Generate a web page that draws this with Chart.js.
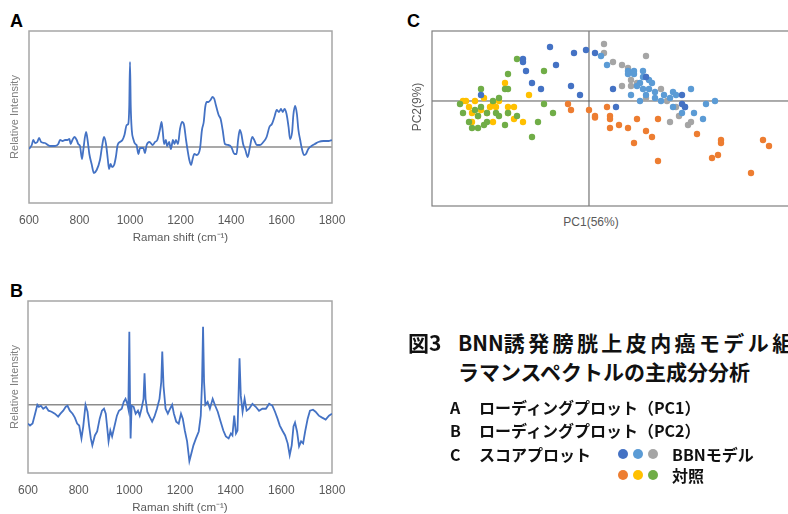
<!DOCTYPE html>
<html lang="ja">
<head>
<meta charset="utf-8">
<script src="https://cdn.jsdelivr.net/npm/chart.js@4.4.1/dist/chart.umd.min.js"></script>
<style>
html, body { margin: 0; padding: 0; background: #fff; }
body { width: 788px; height: 514px; overflow: hidden; position: relative; }
canvas { position: absolute; }
.panel { position: absolute; font-family: "Liberation Sans", Arial, sans-serif; font-weight: bold; font-size: 18px; line-height: 1; color: #000; }
.axis { position: absolute; font-family: "Liberation Sans", Arial, sans-serif; font-size: 12px; line-height: 1; color: #595959; white-space: nowrap; }
.cap { position: absolute; font-family: "Noto Sans CJK JP", sans-serif; line-height: 1; color: #111; white-space: nowrap; }
.t1 { font-size: 21px; font-weight: 700; }
.t2 { font-size: 16px; font-weight: 700; }
.dot { position: absolute; width: 10px; height: 10px; border-radius: 50%; }
</style>
</head>
<body>

<div class="panel" style="left:10px;top:12px;">A</div>
<div class="panel" style="left:10px;top:282px;">B</div>
<div class="panel" style="left:407px;top:12px;">C</div>

<canvas id="chartA" width="345" height="230" style="left:0;top:20px;width:345px;height:230px;"></canvas>
<canvas id="chartB" width="345" height="230" style="left:0;top:290px;width:345px;height:230px;"></canvas>
<canvas id="chartC" width="420" height="215" style="left:400px;top:0;width:420px;height:215px;"></canvas>

<div class="axis" id="pc1Label" style="left:591px;top:216px;transform:translateX(-50%);">PC1(56%)</div>
<div class="axis" id="pc2Label" style="left:417px;top:107px;transform:translate(-50%,-50%) rotate(-90deg);">PC2(9%)</div>

<div class="cap t1" style="left:408px;top:332px;">図3</div>
<div class="cap t1" style="left:458px;top:332px;letter-spacing:3.4px;"><span style="letter-spacing:0;">BNN</span>誘発膀胱上皮内癌モデル組織の</div>
<div class="cap t1" style="left:458px;top:361px;">ラマンスペクトルの主成分分析</div>

<div class="cap t2" style="left:450px;top:399px;">A</div>
<div class="cap t2" style="left:479px;top:399px;">ローディングプロット（PC1）</div>
<div class="cap t2" style="left:450px;top:422px;">B</div>
<div class="cap t2" style="left:479px;top:422px;">ローディングプロット（PC2）</div>
<div class="cap t2" style="left:450px;top:446px;">C</div>
<div class="cap t2" style="left:479px;top:446px;">スコアプロット</div>
<div id="legendRow1"></div>
<div id="legendRow2"></div>
<div class="cap t2" style="left:672px;top:446px;">BBNモデル</div>
<div class="cap t2" style="left:672px;top:467px;">対照</div>

<script>
// ============================================================
// DATA
// ============================================================
const ramanTicks = [600, 800, 1000, 1200, 1400, 1600, 1800];

// A: loading plot PC1
const shiftA = [
    600, 611, 617, 624, 633, 640, 648, 663, 683, 703,
    716, 723, 733, 743, 752, 760, 765, 772, 780, 789,
    795, 802, 810, 815, 826, 832, 839, 848, 857, 868,
    881, 889, 897, 905, 912, 917, 923, 929, 937, 944,
    951, 960, 970, 978, 987, 993, 997, 1000, 1003, 1007,
    1013, 1021, 1026, 1033, 1040, 1053, 1059, 1066, 1077, 1090,
    1099, 1108, 1119, 1125, 1130, 1135, 1142, 1147, 1155, 1162,
    1170, 1176, 1182, 1190, 1198, 1206, 1214, 1222, 1228, 1235,
    1242, 1248, 1255, 1264, 1277, 1285, 1292, 1298, 1304, 1311,
    1319, 1327, 1334, 1340, 1351, 1359, 1367, 1376, 1389, 1401,
    1414, 1422, 1428, 1435, 1441, 1448, 1457, 1466, 1475, 1484,
    1492, 1502, 1515, 1528, 1541, 1552, 1562, 1572, 1581, 1590,
    1598, 1605, 1612, 1620, 1628, 1634, 1642, 1647, 1654, 1661,
    1667, 1674, 1681, 1689, 1697, 1706, 1719, 1732, 1746, 1766,
    1786, 1800
];
const intensityA = [
    -2, 2, 7, 4, 5, 9, 5, 4, 1, 1,
    3, 7, 6, 7, 7, 8, 3, 7, 10, 7,
    3, 1, -12, -3, 15, 7, -7, -17, -26, -23,
    -13, 0, 10, 3, -12, -22, -17, -20, -18, -10,
    2, 5, 7, 12, 22, 23, 40, 85, 40, 17,
    8, 3, 2, -7, -1, -1, -6, 2, 5, 2,
    5, 7, 18, 25, 15, 3, 7, 1, 5, -2,
    7, 3, 7, 3, 18, 25, 22, 7, -3, -13,
    -18, -12, -7, -8, -2, 17, 25, 40, 45, 45,
    47, 50, 48, 42, 32, 28, 17, 3, 2, 0,
    -7, -7, 7, 17, 13, 3, -3, -10, 0, 10,
    7, 2, 2, 5, 10, 20, 23, 30, 37, 35,
    38, 35, 38, 33, 20, 8, 15, 32, 41, 33,
    17, 7, -2, -8, -7, -2, 1, 3, 5, 6,
    6, 7
];

// B: loading plot PC2
const shiftB = [
    600, 608, 618, 628, 637, 643, 651, 660, 671, 681,
    693, 706, 719, 728, 739, 749, 756, 765, 776, 785,
    794, 802, 811, 818, 827, 835, 841, 848, 854, 864,
    873, 883, 892, 900, 907, 913, 918, 925, 932, 942,
    951, 959, 970, 978, 985, 992, 996, 1000, 1003, 1005,
    1009, 1017, 1025, 1034, 1041, 1048, 1056, 1060, 1064, 1071,
    1080, 1090, 1099, 1109, 1119, 1126, 1130, 1135, 1143, 1152,
    1161, 1169, 1176, 1185, 1195, 1204, 1211, 1219, 1228, 1237,
    1245, 1253, 1263, 1274, 1282, 1287, 1291, 1295, 1300, 1309,
    1318, 1329, 1339, 1349, 1359, 1371, 1381, 1392, 1401, 1407,
    1414, 1421, 1427, 1431, 1435, 1440, 1447, 1455, 1463, 1473,
    1486, 1499, 1512, 1525, 1539, 1552, 1565, 1575, 1585, 1594,
    1604, 1615, 1625, 1633, 1641, 1648, 1654, 1662, 1670, 1678,
    1686, 1694, 1704, 1713, 1725, 1735, 1748, 1761, 1775, 1788,
    1800
];
const intensityB = [
    -19, -21, -19, -9, 0, -2, -1, -4, -2, -6,
    -7, -9, -12, -9, -6, -2, -1, -6, -9, -13,
    -19, -21, -34, -22, 0, -7, -21, -34, -41, -31,
    -27, -14, -6, -4, -9, -24, -37, -26, -32, -21,
    -11, -6, -4, 3, 6, 1, -4, 74, -1, -34,
    -1, -2, -9, -6, -11, -4, 6, 32, 6, -7,
    -12, -17, -12, -4, 6, 23, 54, 19, -4, -9,
    -4, 0, -9, -17, -19, -9, -14, -26, -37, -57,
    -49, -41, -34, -27, -11, 23, 79, 23, 0, 3,
    -4, 6, -1, -7, -16, -26, -32, -34, -29, -31,
    -11, -29, -26, 9, 47, 9, -7, 6, -6, -4,
    1, -2, -6, -4, -4, 1, -1, -7, -14, -21,
    -26, -31, -39, -51, -41, -22, -18, -27, -42, -37,
    -39, -27, -14, -6, -5, -7, -11, -13, -15, -11,
    -9
];

// C: score plot, [PC1, PC2]
const bbnDark = [
    [-13, 18], [-5, 16], [-1, 17], [2, 16], [-11, 12], [-22, 14], [-22, 13], [-21, 10],
    [-19, 6], [-16, 4], [-6, 5], [-3, 2], [-36, 2], [8, 4], [9, -2], [31, 2], [32, -2],
    [31, -1], [19, 8]
];
const bbnLight = [
    [4, 15], [6, 12], [13, 10], [15, 10], [18, 10], [13, 9], [18, 8], [20, 7], [21, 6],
    [17, 6], [16, 5], [18, 4], [20, 4], [22, 3], [19, 2], [14, 2], [17, 0], [24, 0],
    [22, 1], [25, 2], [27, 1], [28, 3], [34, 4], [29, 2], [39, -1], [42, 0], [35, -4],
    [38, -6], [31, -4], [32, -2], [28, -2], [15, 9]
];
const bbnGray = [
    [5, 19], [5, 16], [8, 13], [11, 12], [13, 11], [19, 15], [14, 7], [16, 6], [11, 5],
    [14, 5], [19, 8], [24, 4], [19, 1], [26, 0], [29, -2], [30, -5], [27, -7], [33, -8],
    [34, -7]
];
const ctrlOrange = [
    [-7, -1], [-6, -3], [0, -3], [2, -5], [2, -5.5], [6, -2], [7, -5], [7, -6], [7, -9],
    [10, -8], [16, -6], [13, -9], [19, -10], [23, -6], [21, -12], [15, -14], [23, -20],
    [36, -11], [44, -13], [44, -14], [43, -18], [41, -19], [58, -13], [60, -15], [54, -24]
];
const ctrlYellow = [
    [-28, 6], [-20, 2], [-42, 0], [-41, 0], [-38, 0], [-39, -4], [-35, 1], [-32, -1],
    [-31, -2], [-27, -2], [-25, -2], [-25, -6], [-22, -7], [-32, -7], [-39, -7], [-30, 0],
    [-34, -4], [-37, -5], [-27, -4], [-40, -2], [-36, -3], [-33, -2]
];
const ctrlGreen = [
    [-24, 14], [-27, 9], [-15, 10], [-36, 4], [-30, 1], [-28, 4], [-27, 4], [-32, 0],
    [-15, -1], [-12, -4], [-17, -7], [-19, -12], [-43, -1], [-42, -4], [-40, -7], [-39, -9],
    [-37, -9], [-37, -5], [-35, -8], [-34, -7], [-31, -4], [-30, -5], [-28, -8], [-27, -4],
    [-24, -5], [-34, -4], [-36, -2], [-38, -3]
];

const bbnColors = ['#4472C4', '#5B9BD5', '#A5A5A5'];
const ctrlColors = ['#ED7D31', '#FFC000', '#70AD47'];

// ============================================================
// PLUGIN - frame box + zero lines
// ============================================================
const framePlugin = {
    id: 'frame',
    beforeDatasetsDraw(chart, args, opts) {
        const { ctx, chartArea: a, scales } = chart;
        ctx.save();
        ctx.lineWidth = opts.zeroWidth;
        ctx.strokeStyle = opts.zeroColor;
        ctx.beginPath();
        const y0 = scales.y.getPixelForValue(0);
        ctx.moveTo(a.left, y0);
        ctx.lineTo(a.right, y0);
        if (opts.cross) {
            const x0 = scales.x.getPixelForValue(0);
            ctx.moveTo(x0, a.top);
            ctx.lineTo(x0, a.bottom);
        }
        ctx.stroke();
        ctx.lineWidth = opts.borderWidth;
        ctx.strokeStyle = opts.borderColor;
        ctx.strokeRect(a.left, a.top, a.right - a.left, a.bottom - a.top);
        ctx.restore();
    }
};

// ============================================================
// SPECTRUM CHARTS (A, B)
// ============================================================
function spectrumChart(id, shifts, values, yMin, yMax, yWidth, smooth) {
    return new Chart(document.getElementById(id), {
        type: 'line',
        data: {
            datasets: [{
                data: shifts.map((s, i) => ({ x: s, y: values[i] })),
                borderColor: '#4472C4',
                borderWidth: 1.8,
                pointRadius: 0,
                tension: smooth ? 0.4 : 0,
                cubicInterpolationMode: smooth ? 'monotone' : 'default',
                fill: false
            }]
        },
        options: {
            responsive: false,
            animation: false,
            layout: { autoPadding: false, padding: { top: 11, right: 13, left: 0, bottom: 0 } },
            plugins: {
                legend: { display: false },
                tooltip: { enabled: false },
                frame: { zeroColor: '#8c8c8c', zeroWidth: 1.5, borderColor: '#a6a6a6', borderWidth: 1.5, cross: false }
            },
            scales: {
                x: {
                    type: 'linear',
                    min: 600,
                    max: 1800,
                    afterBuildTicks: s => { s.ticks = ramanTicks.map(v => ({ value: v })); },
                    afterFit: s => {
                        s.height = 47;
                        s.paddingLeft = 0;
                        s.paddingRight = 0;
                    },
                    grid: { display: false, drawTicks: false },
                    border: { display: false },
                    ticks: {
                        padding: 10, autoSkip: false, maxRotation: 0, color: '#595959',
                        font: { family: 'Liberation Sans', size: 12 },
                        callback: v => String(v)
                    },
                    title: { display: true, text: 'Raman shift (cm⁻¹)', color: '#595959', font: { family: 'Liberation Sans', size: 11.5 }, padding: { top: 0, bottom: 5 } }
                },
                y: {
                    min: yMin,
                    max: yMax,
                    afterFit: s => {
                        s.width = yWidth;
                        s.paddingTop = 0;
                        s.paddingBottom = 0;
                    },
                    grid: { display: false, drawTicks: false },
                    border: { display: false },
                    ticks: { display: false },
                    title: { display: true, text: 'Relative Intensity', color: '#7f7f7f', font: { family: 'Liberation Sans', size: 11 }, padding: { top: 8, bottom: 0 } }
                }
            }
        },
        plugins: [framePlugin]
    });
}

spectrumChart('chartA', shiftA, intensityA, -56, 116, 29, true);
spectrumChart('chartB', shiftB, intensityB, -69, 105, 28, false);

// ============================================================
// SCORE PLOT (C)
// ============================================================
const toXY = arr => arr.map(p => ({ x: p[0], y: p[1] }));
const scoreSets = [bbnDark, bbnLight, bbnGray, ctrlOrange, ctrlGreen, ctrlYellow];
const scoreColors = [bbnColors[0], bbnColors[1], bbnColors[2], ctrlColors[0], ctrlColors[2], ctrlColors[1]];

new Chart(document.getElementById('chartC'), {
    type: 'scatter',
    data: {
        datasets: scoreSets.map((pts, i) => ({
            data: toXY(pts),
            backgroundColor: scoreColors[i],
            borderWidth: 0,
            pointRadius: 3.2
        }))
    },
    options: {
        responsive: false,
        animation: false,
        layout: { autoPadding: false, padding: { left: 32, top: 31, right: 11, bottom: 9 } },
        plugins: {
            legend: { display: false },
            tooltip: { enabled: false },
            frame: { zeroColor: '#595959', zeroWidth: 1, borderColor: '#7f7f7f', borderWidth: 1.2, cross: true }
        },
        scales: {
            x: { type: 'linear', min: -52.33, max: 73.33, display: false },
            y: { type: 'linear', min: -35, max: 23.33, display: false }
        }
    },
    plugins: [framePlugin]
});

// legend dots in caption
function legendDots(rowId, colors, top) {
    const row = document.getElementById(rowId);
    colors.forEach((c, i) => {
        const d = document.createElement('div');
        d.className = 'dot';
        d.style.left = (618 + i * 15) + 'px';
        d.style.top = top + 'px';
        d.style.background = c;
        row.appendChild(d);
    });
}
legendDots('legendRow1', bbnColors, 449);
legendDots('legendRow2', ctrlColors, 470);
</script>
</body>
</html>
